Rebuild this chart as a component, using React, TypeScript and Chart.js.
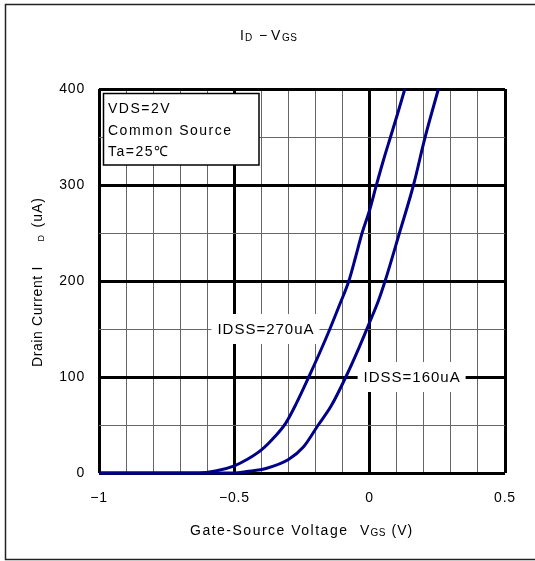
import React, { useEffect, useRef } from 'react';
import { Chart, registerables } from 'chart.js';

Chart.register(...registerables);

// ---- data ----
const vgsHigh = [-1, -0.63, -0.57, -0.5, -0.45, -0.4, -0.35, -0.31, -0.27, -0.225, -0.185, -0.147, -0.11, -0.077, -0.052, -0.028, 0, 0.024, 0.05, 0.077, 0.104, 0.13];
const idHigh = [0, 0, 2, 7.5, 14.5, 24, 38, 52, 73, 100, 125, 150, 176, 200, 225, 250, 274, 299, 325, 350, 375, 400];

const vgsLow = [-1, -0.5, -0.454, -0.38, -0.3, -0.245, -0.19, -0.142, -0.088, -0.04, 0, 0.033, 0.057, 0.11, 0.162, 0.205, 0.254];
const idLow = [0, 0, 1.5, 5, 14, 27, 50, 70, 100, 130, 157, 180, 200, 250, 300, 350, 400];

const xTickValues = [-1, -0.5, 0, 0.5];
const xTickLabels = ['\u22121', '\u22120.5', '0', '0.5'];
const yTickValues = [0, 100, 200, 300, 400];
const yTickLabels = ['0', '100', '200', '300', '400'];

const labelHigh = { text: 'IDSS=270uA', x: -0.385, y: 150 };
const labelLow = { text: 'IDSS=160uA', x: 0.155, y: 100 };
const conditions = ['VDS=2V', 'Common Source', 'Ta=25\u2103'];

const FONT = '"Liberation Sans", Arial, sans-serif';
const LINE = '#000088';

function findIdx(vals: number[], v: number) {
  for (let i = 0; i < vals.length; i++) if (Math.abs(vals[i] - v) < 1e-6) return i;
  return -1;
}

function txt(ctx: CanvasRenderingContext2D, t: string, x: number, y: number, size: number, sp: number) {
  ctx.font = `${size}px ${FONT}`;
  (ctx as any).letterSpacing = `${sp}px`;
  ctx.fillText(t, x, y);
}

const decor = {
  id: 'decor',
  beforeDraw(chart: any) {
    (chart.ctx as any).letterSpacing = '0.8px';
  },
  afterDraw(chart: any) {
    const ctx: CanvasRenderingContext2D = chart.ctx;
    const xs = chart.scales.x;
    const ys = chart.scales.y;
    const area = chart.chartArea;
    ctx.save();
    ctx.fillStyle = '#000';
    ctx.textAlign = 'left';
    ctx.textBaseline = 'alphabetic';

    // outer frame
    ctx.strokeStyle = '#222';
    ctx.lineWidth = 1.5;
    ctx.strokeRect(5.5, 4.5, 600, 555);

    // title  I_D − V_GS
    txt(ctx, 'I', 240, 40, 14, 0);
    txt(ctx, 'D', 245, 41, 10, 0);
    txt(ctx, '\u2212', 259, 40, 14, 0);
    txt(ctx, 'V', 271, 40, 14, 0);
    txt(ctx, 'GS', 282, 41, 10, 0.5);

    // x axis title
    txt(ctx, 'Gate-Source Voltage', 190, 535, 14, 1.5);
    txt(ctx, 'V', 360, 535, 14, 0);
    txt(ctx, 'GS', 370.5, 536, 10, 0.5);
    txt(ctx, '(V)', 391.5, 535, 14, 1);

    // y axis title (rotated)
    ctx.save();
    ctx.translate(42, 0);
    ctx.rotate(-Math.PI / 2);
    txt(ctx, 'Drain Current', -367, 0, 14, 0.6);
    txt(ctx, 'I', -270.5, 0, 14, 0);
    txt(ctx, 'D', -241.5, 2, 9, 0);
    txt(ctx, '(uA)', -227.5, 0, 14, 1);
    ctx.restore();

    // conditions box
    ctx.fillStyle = '#fff';
    ctx.fillRect(area.left + 4.5, area.top + 4.5, 155.5, 71.5);
    ctx.strokeStyle = '#000';
    ctx.lineWidth = 1.5;
    ctx.strokeRect(area.left + 4.5, area.top + 4.5, 155.5, 71.5);
    ctx.fillStyle = '#000';
    conditions.forEach((c, i) => {
      txt(ctx, c, area.left + 9, area.top + 24 + i * 21.5, 14, 1.5);
    });

    // IDSS labels
    [labelHigh, labelLow].forEach((l) => {
      const cx = xs.getPixelForValue(l.x);
      const cy = ys.getPixelForValue(l.y);
      ctx.fillStyle = '#fff';
      ctx.fillRect(cx - 54, cy - 15, 108, 30);
      ctx.fillStyle = '#000';
      ctx.textAlign = 'center';
      ctx.textBaseline = 'middle';
      txt(ctx, l.text, cx + 0.5, cy + 0.5, 15, 1);
      ctx.textAlign = 'left';
      ctx.textBaseline = 'alphabetic';
    });
    ctx.restore();
  },
};

export default function App() {
  const ref = useRef<HTMLCanvasElement | null>(null);
  useEffect(() => {
    if (!ref.current) return;
    const isMajorX = (v: number) => findIdx(xTickValues, v) >= 0;
    const isMajorY = (v: number) => findIdx(yTickValues, v) >= 0;
    const chart = new Chart(ref.current, {
      type: 'scatter',
      data: {
        datasets: [
          {
            label: 'IDSS=270uA',
            data: vgsHigh.map((v, i) => ({ x: v, y: idHigh[i] })),
            showLine: true,
            borderColor: LINE,
            borderWidth: 3,
            pointRadius: 0,
            cubicInterpolationMode: 'monotone',
            clip: 2,
          },
          {
            label: 'IDSS=160uA',
            data: vgsLow.map((v, i) => ({ x: v, y: idLow[i] })),
            showLine: true,
            borderColor: LINE,
            borderWidth: 3,
            pointRadius: 0,
            cubicInterpolationMode: 'monotone',
            clip: 2,
          },
        ],
      },
      options: {
        animation: false,
        responsive: false,
        devicePixelRatio: 1,
        layout: { padding: { left: 0, top: 89, right: 30, bottom: 0 } },
        plugins: { legend: { display: false }, tooltip: { enabled: false }, title: { display: false } },
        scales: {
          x: {
            type: 'linear',
            min: -1,
            max: 0.5,
            afterFit: (s: any) => { s.height = 88; },
            border: { display: false },
            grid: {
              drawTicks: false,
              lineWidth: (c: any) => (isMajorX(c.tick.value) ? 3 : 1),
              color: (c: any) => (isMajorX(c.tick.value) ? '#000' : '#666'),
            },
            ticks: {
              stepSize: 0.1,
              autoSkip: false,
              maxRotation: 0,
              padding: 17,
              color: '#000',
              font: { family: FONT, size: 14 },
              callback: (v: any) => {
                const i = findIdx(xTickValues, Number(v));
                return i >= 0 ? xTickLabels[i] : '';
              },
            },
          },
          y: {
            type: 'linear',
            min: 0,
            max: 400,
            afterFit: (s: any) => { s.width = 99; },
            border: { display: false },
            grid: {
              drawTicks: false,
              lineWidth: (c: any) => (isMajorY(c.tick.value) ? 3 : 1),
              color: (c: any) => (isMajorY(c.tick.value) ? '#000' : '#666'),
            },
            ticks: {
              stepSize: 50,
              autoSkip: false,
              padding: 14,
              color: '#000',
              font: { family: FONT, size: 14 },
              callback: (v: any) => {
                const i = findIdx(yTickValues, Number(v));
                return i >= 0 ? yTickLabels[i] : '';
              },
            },
          },
        },
      },
      plugins: [decor],
    } as any);
    return () => chart.destroy();
  }, []);

  return (
    <div style={{ position: 'absolute', left: 0, top: 0, width: 535, height: 561, background: '#fff' }}>
      <canvas ref={ref} width={535} height={561} style={{ display: 'block', width: 535, height: 561 }} />
    </div>
  );
}
